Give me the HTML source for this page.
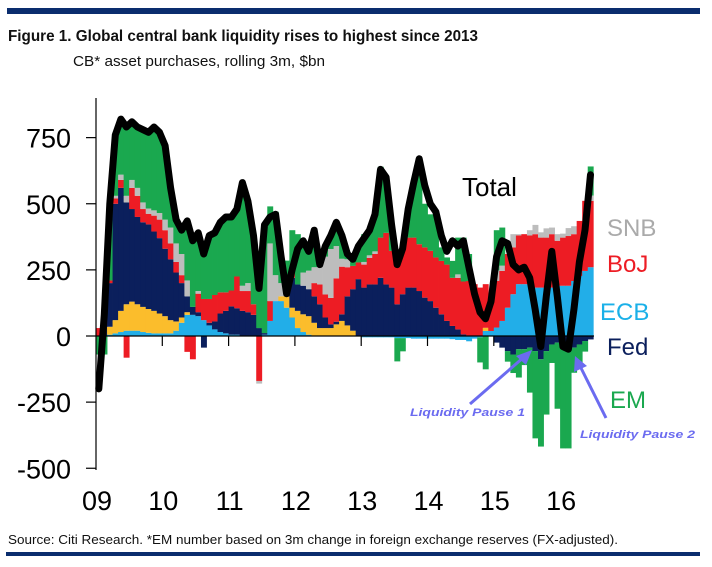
<!DOCTYPE html>
<html><head><meta charset="utf-8"><style>
html,body{margin:0;padding:0;background:#fff;}
svg{display:block;font-family:"Liberation Sans",Arial,sans-serif;}
</style></head><body>
<svg id="chart" width="712" height="567" viewBox="0 0 712 567" xmlns="http://www.w3.org/2000/svg">
<rect x="7" y="8" width="693" height="6" fill="#0a2d6e"/>
<text x="8" y="41" font-size="16" font-weight="bold" fill="#111" textLength="470" lengthAdjust="spacingAndGlyphs">Figure 1. Global central bank liquidity rises to highest since 2013</text>
<text x="73" y="66" font-size="15" fill="#111" textLength="252" lengthAdjust="spacingAndGlyphs">CB* asset purchases, rolling 3m, $bn</text>
<g id="bars"></g>
<g id="axes"></g>
<g id="line"></g>
<text x="462" y="196" font-size="26" fill="#000">Total</text>
<text x="607" y="236" font-size="24" fill="#aaaaaa">SNB</text>
<text x="607" y="272" font-size="24" fill="#ed1c24">BoJ</text>
<text x="600" y="320" font-size="24" fill="#1ab0e8">ECB</text>
<text x="607" y="355" font-size="24" fill="#0b1f5c">Fed</text>
<text x="610" y="408" font-size="24" fill="#1aa84f">EM</text>
<g>
<line x1="470" y1="404" x2="524" y2="357" stroke="#6b6bf0" stroke-width="3"/>
<polygon points="532,350 516,356 526,365" fill="#6b6bf0"/>
<text x="410" y="416" font-size="11" font-weight="bold" font-style="italic" fill="#6b6bf0" textLength="115" lengthAdjust="spacingAndGlyphs">Liquidity Pause 1</text>
</g>
<g>
<line x1="606" y1="418" x2="580" y2="366" stroke="#6b6bf0" stroke-width="3"/>
<polygon points="575,356 574,372 587,366" fill="#6b6bf0"/>
<text x="580" y="438" font-size="11" font-weight="bold" font-style="italic" fill="#6b6bf0" textLength="115" lengthAdjust="spacingAndGlyphs">Liquidity Pause 2</text>
</g>
<text x="8" y="544" font-size="12.5" fill="#111" textLength="610" lengthAdjust="spacingAndGlyphs">Source: Citi Research. *EM number based on 3m change in foreign exchange reserves (FX-adjusted).</text>
<rect x="6" y="552" width="694" height="4" fill="#0a2d6e"/>
</svg>
<script>
const years = ["09","10","11","12","13","14","15","16"];
const yTicks = [750,500,250,0,-250,-500];
const ecb = [0,0,5,10,15,20,20,20,15,12,10,10,
10,10,20,50,80,80,75,60,40,25,15,10,
5,5,0,0,0,0,5,57,132,132,107,70,
30,15,5,0,0,0,0,0,0,0,0,0,
-5,-5,-5,-5,-5,-5,-8,-8,-8,-10,-10,-10,
-10,-10,-10,-10,-12,-15,-15,-20,-10,-5,19,19,
32,57,107,158,196,196,196,183,183,183,183,190,
190,190,208,227,246,260];
const boe = [0,0,30,50,80,100,110,100,95,90,85,75,
65,50,35,20,10,0,0,0,0,0,0,0,
0,0,0,0,0,0,0,0,0,18,43,37,
65,67,70,50,30,30,30,44,57,40,20,0,
0,0,0,0,0,0,0,0,0,0,0,0,
0,0,0,0,0,0,0,0,0,0,12,0,
0,0,0,0,0,0,0,0,0,0,0,0,
0,0,0,0,0,0];
const fed = [0,45,165,440,465,385,350,330,320,320,300,285,
255,230,185,130,60,30,15,-44,10,30,70,85,
107,100,95,90,80,30,6,0,0,0,70,113,
100,108,102,100,90,40,14,10,25,110,157,215,
183,195,195,220,195,183,120,158,183,183,170,145,
132,107,82,57,38,25,6,0,0,0,0,0,
-25,-44,-57,-70,-50,-50,-44,-57,-88,-57,-32,-25,
-25,-25,-44,-32,-19,-13];
const boj = [30,10,10,20,30,-82,80,80,50,40,60,70,
70,60,40,30,-60,-88,70,80,90,100,80,70,
60,120,75,80,40,-170,0,75,0,0,0,30,
0,0,0,50,75,87,100,164,180,110,88,63,
87,100,115,152,195,139,190,177,189,189,177,190,
190,190,202,213,182,195,200,208,196,183,165,139,
176,189,203,177,184,189,184,202,189,189,202,170,
182,188,177,208,265,251];
const snb = [0,0,0,10,20,25,30,30,25,20,20,25,
40,60,70,80,60,0,10,0,0,0,0,0,
0,0,20,30,0,-10,0,218,98,50,0,0,
0,50,70,60,125,143,185,122,30,30,0,0,
10,10,10,0,0,0,0,0,0,0,0,0,
0,0,0,0,0,13,0,0,0,0,0,0,
40,20,0,50,5,0,20,35,20,35,25,25,
15,30,30,0,0,20];
const em = [-70,-70,290,230,210,260,220,235,278,290,315,305,
280,150,90,90,225,250,220,170,240,235,265,285,
278,255,390,310,260,150,409,140,240,100,65,150,
190,120,73,130,0,40,51,90,88,20,45,62,
105,95,140,268,210,98,-88,-50,88,203,328,165,
138,173,51,27,64,139,166,102,0,-95,-126,0,
152,144,-40,-70,-107,-60,-170,-330,-330,-240,-70,-250,
-400,-400,-95,-70,-40,110];
const total = [-200,80,500,760,820,790,810,790,780,770,790,770,
720,560,440,400,435,360,390,310,380,390,430,450,
450,480,580,510,380,180,420,450,460,300,160,250,
330,360,320,400,270,340,380,430,380,310,290,340,
370,400,460,630,600,420,270,330,480,580,670,570,
500,470,380,320,360,340,360,260,160,90,65,130,
300,360,350,270,250,260,220,100,-40,150,320,150,
-40,-50,100,280,400,610];

const NS="http://www.w3.org/2000/svg";
const X0=96, YEARW=66.3, MW=YEARW/12;
const xScale = i => X0 + MW*i;
const yScale = v => 336 - v*0.2645;
const barsG=document.getElementById('bars');
const axesG=document.getElementById('axes');
const lineG=document.getElementById('line');
const series=[["ecb",ecb,"#22aee8"],["boe",boe,"#fbbd2c"],["fed",fed,"#0b1f5c"],["boj",boj,"#ed1c24"],["snb",snb,"#bdbdbd"],["em",em,"#1aa84f"]];
for(let i=0;i<total.length;i++){
  let pos=0,neg=0;
  for(const [nm,arr,col] of series){
    const v=arr[i]; if(!v) continue;
    let a,b;
    if(v>0){a=pos;b=pos+v;pos=b;}else{a=neg;b=neg+v;neg=b;}
    const r=document.createElementNS(NS,'rect');
    r.setAttribute('x',xScale(i));
    r.setAttribute('width',MW+0.4);
    r.setAttribute('y',Math.min(yScale(a),yScale(b)));
    r.setAttribute('height',Math.abs(yScale(a)-yScale(b)));
    r.setAttribute('fill',col);
    
    
    barsG.appendChild(r);
  }
}
const yl=document.createElementNS(NS,'line');
yl.setAttribute('x1',X0);yl.setAttribute('x2',X0);yl.setAttribute('y1',98);yl.setAttribute('y2',470);
yl.setAttribute('stroke','#000');yl.setAttribute('stroke-width','1.2');


axesG.appendChild(yl);
const zl=document.createElementNS(NS,'line');
zl.setAttribute('x1',X0);zl.setAttribute('x2',594);zl.setAttribute('y1',yScale(0));zl.setAttribute('y2',yScale(0));
zl.setAttribute('stroke','#000');zl.setAttribute('stroke-width','1.2');


axesG.appendChild(zl);
for(const t of yTicks){
  const y=yScale(t);
  const tk=document.createElementNS(NS,'line');
  tk.setAttribute('x1',86);tk.setAttribute('x2',X0);tk.setAttribute('y1',y);tk.setAttribute('y2',y);
  tk.setAttribute('stroke','#000');tk.setAttribute('stroke-width','1.2');
  
  
  axesG.appendChild(tk);
  const tx=document.createElementNS(NS,'text');
  tx.setAttribute('x',71);tx.setAttribute('y',y+10);tx.setAttribute('text-anchor','end');
  tx.setAttribute('font-size','27');tx.setAttribute('fill','#000');
  tx.textContent=String(t);
  
  
  axesG.appendChild(tx);
}
years.forEach((yr,k)=>{
  const x=X0+YEARW*k;
  if(k>0){
    const tk=document.createElementNS(NS,'line');
    tk.setAttribute('x1',x);tk.setAttribute('x2',x);tk.setAttribute('y1',yScale(0));tk.setAttribute('y2',yScale(0)+10);
    tk.setAttribute('stroke','#000');tk.setAttribute('stroke-width','1.2');
    
    
    axesG.appendChild(tk);
  }
  const tx=document.createElementNS(NS,'text');
  tx.setAttribute('x',x+1);tx.setAttribute('y',510);tx.setAttribute('text-anchor','middle');
  tx.setAttribute('font-size','27');tx.setAttribute('fill','#000');
  tx.textContent=yr;
  
  
  axesG.appendChild(tx);
});
const pts=total.map((v,i)=>xScale(i+0.5).toFixed(1)+','+yScale(v).toFixed(1)).join(' ');
const pl=document.createElementNS(NS,'polyline');
pl.setAttribute('points',pts);
pl.setAttribute('fill','none');pl.setAttribute('stroke','#000');pl.setAttribute('stroke-width','7');
pl.setAttribute('stroke-linejoin','round');pl.setAttribute('stroke-linecap','round');


lineG.appendChild(pl);
</script>
</body></html>
